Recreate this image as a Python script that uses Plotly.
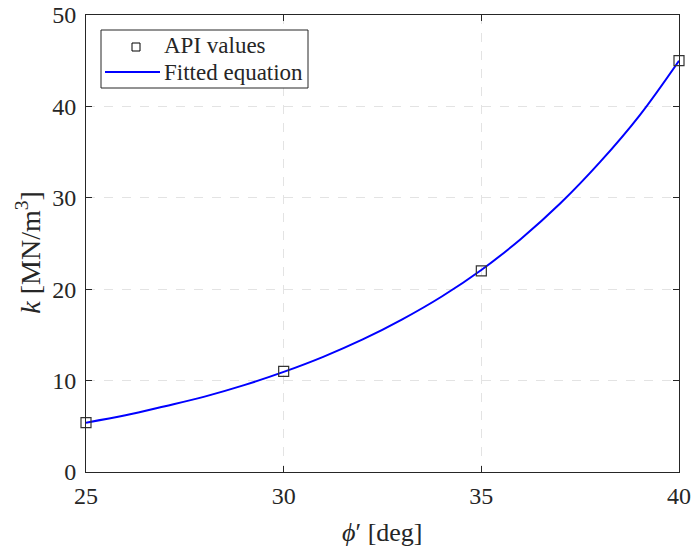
import plotly.graph_objects as go

# API values
api_phi = [25, 30, 35, 40]
api_k = [5.4, 11.0, 22.0, 45.0]

# Fitted equation curve
fit_phi = [25, 26, 27, 28, 29, 30, 31, 32, 33, 34, 35, 36, 37, 38, 39, 40]
fit_k = [5.4, 6.2, 7.2, 8.25, 9.5, 10.95, 12.6, 14.5, 16.7, 19.2, 22.1, 25.5, 29.4, 33.9, 39.0, 45.0]

x_ticks = [25, 30, 35, 40]
y_ticks = [0, 10, 20, 30, 40, 50]
legend_labels = ["API values", "Fitted equation"]

FONT = "Liberation Serif"
INK = "#262626"

# plot-area geometry in pixels (used only for placing the legend box)
L, R, T, B = 86, 679, 15, 472
def px(x):
    return (x - L) / (R - L)
def py(y):
    return (B - y) / (B - T)

fig = go.Figure()
fig.add_trace(go.Scatter(
    x=fit_phi, y=fit_k, mode="lines", name=legend_labels[1],
    line=dict(color="#0000ff", width=2, shape="spline"),
))
fig.add_trace(go.Scatter(
    x=api_phi, y=api_k, mode="markers", name=legend_labels[0],
    marker=dict(symbol="square-open", size=10, color="#333333", line=dict(width=1.2)),
    cliponaxis=False,
))

axis_common = dict(
    showline=True, linecolor=INK, linewidth=1, mirror="allticks",
    ticks="inside", ticklen=6, tickcolor=INK,
    showgrid=True, gridcolor="#e3e3e3", griddash="dash", gridwidth=1,
    zeroline=False, tickfont=dict(family=FONT, size=24, color=INK),
    automargin=False,
)

shapes = [
    # legend box
    dict(type="rect", xref="paper", yref="paper", x0=px(101), x1=px(308), y0=py(88), y1=py(30),
         line=dict(color=INK, width=1), fillcolor="white", layer="above"),
    # marker sample
    dict(type="rect", xref="paper", yref="paper", x0=px(132), x1=px(140), y0=py(51), y1=py(43),
         line=dict(color="black", width=1), fillcolor="white", layer="above"),
    # line sample
    dict(type="line", xref="paper", yref="paper", x0=px(105), x1=px(160), y0=py(72), y1=py(72),
         line=dict(color="#0000ff", width=2), layer="above"),
]

annotations = [
    dict(text=legend_labels[0], xref="paper", yref="paper", x=px(162), y=py(46),
         xanchor="left", yanchor="middle", showarrow=False,
         font=dict(family=FONT, size=23, color=INK)),
    dict(text=legend_labels[1], xref="paper", yref="paper", x=px(162), y=py(73),
         xanchor="left", yanchor="middle", showarrow=False,
         font=dict(family=FONT, size=23, color=INK)),
    dict(text="<i>ϕ</i>′ [deg]", xref="paper", yref="paper", x=0.5, y=0,
         xanchor="center", yanchor="top", yshift=-44, showarrow=False,
         font=dict(family=FONT, size=26, color=INK)),
    dict(text="<i>k</i> [MN/m<sup>3</sup>]", xref="paper", yref="paper", x=0, y=0.48,
         xanchor="center", yanchor="middle", xshift=-57, textangle=-90, showarrow=False,
         font=dict(family=FONT, size=28, color=INK)),
]

fig.update_layout(
    width=694, height=547,
    margin=dict(l=L, r=694 - R, t=T, b=547 - B),
    paper_bgcolor="white", plot_bgcolor="white",
    font=dict(family=FONT, color=INK),
    xaxis=dict(range=[25, 40], tickvals=x_ticks, ticklabelstandoff=2, **axis_common),
    yaxis=dict(range=[0, 50], tickvals=y_ticks, ticklabelstandoff=4, **axis_common),
    showlegend=False,
    shapes=shapes,
    annotations=annotations,
)

fig.write_html("out.html", config={"displayModeBar": False},
               post_script="document.body.style.margin='0';document.body.style.overflow='hidden';")
